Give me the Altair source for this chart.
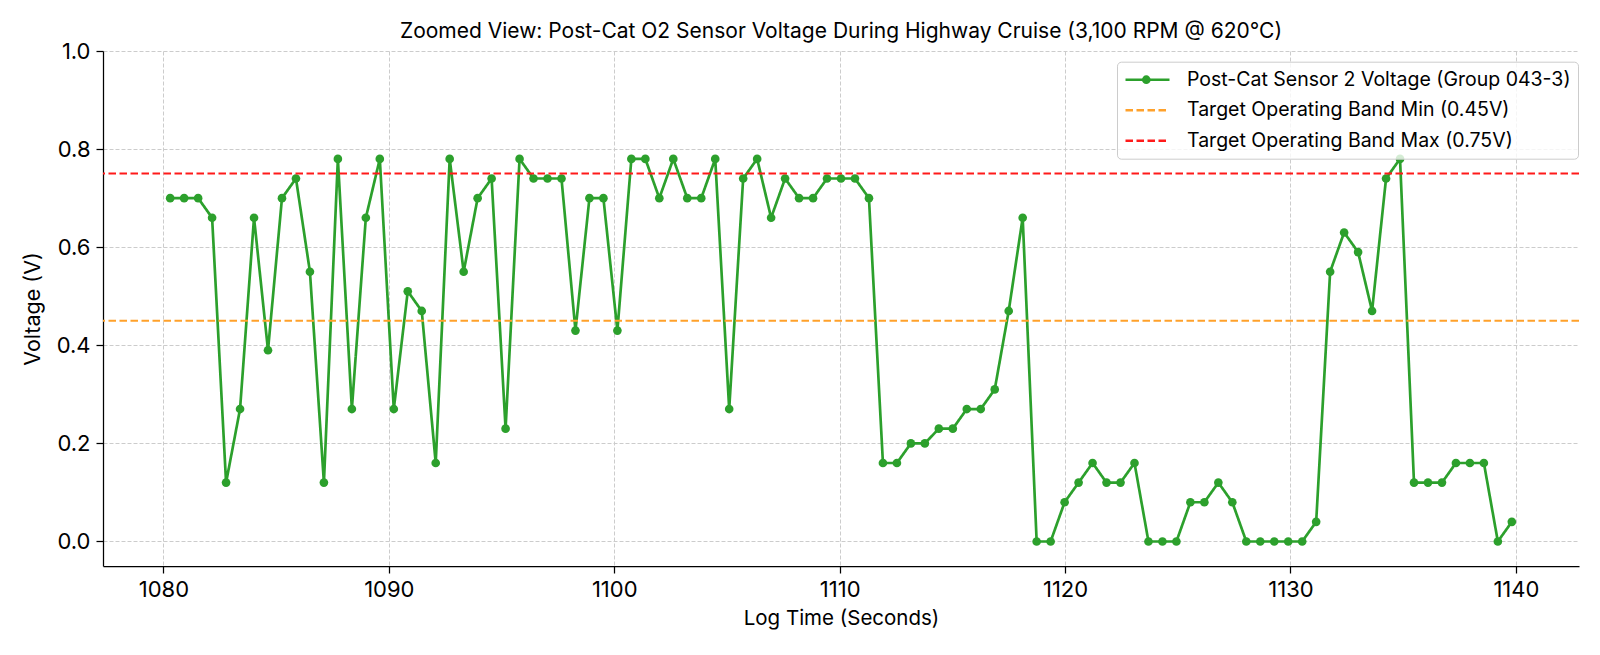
import altair as alt
import pandas as pd

# ---- data ----
times = [1080.30, 1080.92, 1081.54, 1082.16, 1082.78, 1083.40, 1084.02, 1084.64, 1085.26, 1085.88,
         1086.50, 1087.12, 1087.74, 1088.36, 1088.98, 1089.60, 1090.22, 1090.84, 1091.46, 1092.08,
         1092.70, 1093.32, 1093.94, 1094.56, 1095.18, 1095.80, 1096.42, 1097.04, 1097.66, 1098.28,
         1098.90, 1099.52, 1100.14, 1100.76, 1101.38, 1102.00, 1102.62, 1103.24, 1103.86, 1104.48,
         1105.10, 1105.72, 1106.34, 1106.96, 1107.58, 1108.20, 1108.82, 1109.44, 1110.06, 1110.68,
         1111.30, 1111.92, 1112.54, 1113.16, 1113.78, 1114.40, 1115.02, 1115.64, 1116.26, 1116.88,
         1117.50, 1118.12, 1118.74, 1119.36, 1119.98, 1120.60, 1121.22, 1121.84, 1122.46, 1123.08,
         1123.70, 1124.32, 1124.94, 1125.56, 1126.18, 1126.80, 1127.42, 1128.04, 1128.66, 1129.28,
         1129.90, 1130.52, 1131.14, 1131.76, 1132.38, 1133.00, 1133.62, 1134.24, 1134.86, 1135.48,
         1136.10, 1136.72, 1137.34, 1137.96, 1138.58, 1139.20, 1139.82]

volts = [0.70, 0.70, 0.70, 0.66, 0.12, 0.27, 0.66, 0.39, 0.70, 0.74,
         0.55, 0.12, 0.78, 0.27, 0.66, 0.78, 0.27, 0.51, 0.47, 0.16,
         0.78, 0.55, 0.70, 0.74, 0.23, 0.78, 0.74, 0.74, 0.74, 0.43,
         0.70, 0.70, 0.43, 0.78, 0.78, 0.70, 0.78, 0.70, 0.70, 0.78,
         0.27, 0.74, 0.78, 0.66, 0.74, 0.70, 0.70, 0.74, 0.74, 0.74,
         0.70, 0.16, 0.16, 0.20, 0.20, 0.23, 0.23, 0.27, 0.27, 0.31,
         0.47, 0.66, 0.00, 0.00, 0.08, 0.12, 0.16, 0.12, 0.12, 0.16,
         0.00, 0.00, 0.00, 0.08, 0.08, 0.12, 0.08, 0.00, 0.00, 0.00,
         0.00, 0.00, 0.04, 0.55, 0.63, 0.59, 0.47, 0.74, 0.78, 0.12,
         0.12, 0.12, 0.16, 0.16, 0.16, 0.00, 0.04]

series_label = "Post-Cat Sensor 2 Voltage (Group 043-3)"
band_labels = ["Target Operating Band Min (0.45V)", "Target Operating Band Max (0.75V)"]
band_values = [0.45, 0.75]
legend_labels = [series_label] + band_labels
legend_colors = ["#2ca02c", "#ffa12b", "#ff1a1a"]
legend_dashes = [[1, 0], [7.5, 3.5], [7.5, 3.5]]
green = "#2ca02c"

x_ticks = [1080, 1090, 1100, 1110, 1120, 1130, 1140]
y_ticks = [0.0, 0.2, 0.4, 0.6, 0.8, 1.0]
x_domain = [1077.32, 1142.80]
y_domain = [-0.05, 1.0]

title_text = "Zoomed View: Post-Cat O2 Sensor Voltage During Highway Cruise (3,100 RPM @ 620°C)"
x_title = "Log Time (Seconds)"
y_title = "Voltage (V)"

FONT = "Inter"

df = pd.DataFrame({"t": times, "v": volts, "series": series_label, "marker": series_label})
bands = pd.DataFrame({"v": band_values, "series": band_labels})

color_scale = alt.Scale(domain=legend_labels, range=legend_colors)
dash_scale = alt.Scale(domain=legend_labels, range=legend_dashes)

main_legend = alt.Legend(
    title=None,
    orient="none",
    legendX=1014,
    legendY=10.7,
    zindex=1,
    symbolType="stroke",
    symbolSize=1936,
    symbolStrokeWidth=2.5,
    clipHeight=22,
    rowPadding=8.5,
    labelFont=FONT,
    labelFontSize=19.5,
    labelColor="#000000",
    labelOffset=16,
    labelLimit=0,
    padding=7,
    fillColor="rgba(255,255,255,0.8)",
    strokeColor="#cccccc",
    cornerRadius=4,
)

marker_legend = alt.Legend(
    title=None,
    orient="none",
    legendX=1038.8,
    legendY=23.7,
    zindex=2,
    symbolType="circle",
    symbolSize=75,
    symbolFillColor=green,
    symbolStrokeWidth=0,
    clipHeight=10,
    padding=0,
    labelExpr="''",
    labelFontSize=1,
)

x_enc = alt.X(
    "t:Q",
    scale=alt.Scale(domain=x_domain, nice=False, zero=False),
    axis=alt.Axis(values=x_ticks, format="d", title=x_title, titleFontSize=20.5),
)
y_enc = alt.Y(
    "v:Q",
    scale=alt.Scale(domain=y_domain, nice=False, zero=False),
    axis=alt.Axis(values=y_ticks, format=".1f", title=y_title, titlePadding=12,
                  titleFontSize=21.5),
)

line = alt.Chart(df).mark_line(strokeWidth=2.7).encode(
    x=x_enc,
    y=y_enc,
    color=alt.Color("series:N", scale=color_scale, legend=main_legend),
    strokeDash=alt.StrokeDash("series:N", scale=dash_scale, legend=main_legend),
)

points = alt.Chart(df).mark_point(filled=True, size=75, opacity=1).encode(
    x=x_enc,
    y=y_enc,
    color=alt.value(green),
    shape=alt.Shape("marker:N", scale=alt.Scale(domain=[series_label], range=["circle"]),
                    legend=marker_legend),
)

rules = alt.Chart(bands).mark_rule(strokeWidth=2).encode(
    y=alt.Y("v:Q"),
    color=alt.Color("series:N", scale=color_scale, legend=main_legend),
    strokeDash=alt.StrokeDash("series:N", scale=dash_scale, legend=main_legend),
)

chart = alt.layer(line, points, rules).properties(
    width=1476,
    height=515,
    title=alt.TitleParams(
        text=title_text, font=FONT, fontSize=21, fontWeight="normal",
        color="#000000", offset=-2,
    ),
    padding={"left": 95, "top": 43, "right": 13, "bottom": 75},
    autosize=alt.AutoSizeParams(type="none"),
).configure_view(
    stroke=None
).configure_axis(
    domainColor="#000000",
    domainWidth=1.25,
    tickColor="#000000",
    tickSize=7,
    tickWidth=1.25,
    labelFont=FONT,
    labelFontSize=22,
    labelColor="#000000",
    labelPadding=6,
    titleFont=FONT,
    titleFontSize=20,
    titleFontWeight="normal",
    titleColor="#000000",
    titlePadding=8,
    gridColor="#cccccc",
    gridDash=[4, 2],
    gridWidth=1,
)

chart.save("out.html", embed_options={"renderer": "svg", "actions": False})
